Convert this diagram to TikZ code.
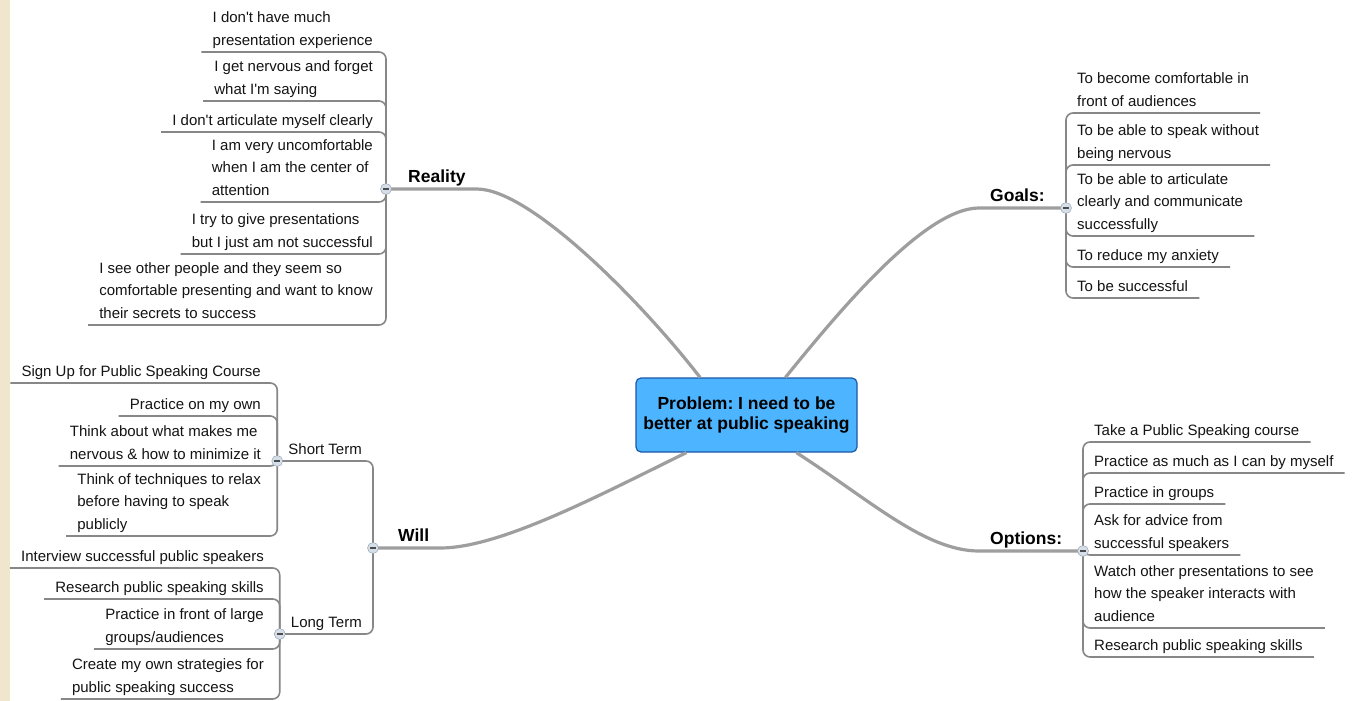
\documentclass[tikz,border=0pt]{standalone}
\usepackage{fontspec}
\setmainfont{Liberation Sans}[Ligatures=TeXOff]
\frenchspacing
\definecolor{parch}{RGB}{240,230,206}
\definecolor{probfill}{RGB}{77,181,255}
\definecolor{probdraw}{RGB}{28,88,168}
\definecolor{branchgray}{RGB}{158,158,158}
\definecolor{leafgray}{RGB}{135,135,135}
\definecolor{inkc}{RGB}{20,20,20}
\definecolor{btnfill}{RGB}{214,222,232}
\definecolor{btndraw}{RGB}{140,155,175}

\begin{document}
\begin{tikzpicture}[x=1pt, y=-1pt,
    item/.style={font=\fontsize{15}{22.5}\selectfont, text=inkc, align=left,
      inner xsep=11pt, inner ysep=0pt, execute at end node=\strut},
    topic/.style={font=\fontsize{17.5}{21}\selectfont\bfseries, text=black,
      inner xsep=11pt, inner ysep=0pt, execute at end node=\strut},
    problem/.style={draw=probdraw, fill=probfill, line width=1.2pt, rounded corners=5pt,
      minimum width=221pt, minimum height=74pt, align=center,
      font=\fontsize{17.5}{20}\selectfont\bfseries},
    branch/.style={draw=branchgray, line width=3.2pt},
    leaf/.style={draw=leafgray, line width=1.6pt, rounded corners=7pt},
    btn/.style={circle, draw=btndraw, fill=btnfill, minimum size=11pt, inner sep=0pt,
      path picture={\draw[black!70, line width=1.3pt]
        ([xshift=-2.8pt]path picture bounding box.center) --
        ([xshift=2.8pt]path picture bounding box.center);}},
  ]
  % Background
  \fill[white] (0,0) rectangle (1355,701);
  \fill[parch] (0,0) rectangle (10,701);
  \useasboundingbox (0,0) rectangle (1355,701);

  % Central topic
  \node[problem] (prob) at (746.5,415) {Problem: I need to be\\better at public speaking};

  % Main topics
  \node[topic, anchor=south west] (reality) at (397,189) {Reality};
  \node[topic, anchor=south west] (goals) at (979,208) {Goals:};
  \node[topic, anchor=south west] (will) at (387,548) {Will};
  \node[topic, anchor=south west] (options) at (979,551) {Options:};
  \node[item, anchor=south east] (st) at (373,461) {Short Term};
  \node[item, anchor=south east] (lt) at (373,634) {Long Term};

  % Buttons
  \coordinate (cR) at (386,189);
  \coordinate (cG) at (1066,208);
  \coordinate (cO) at (1083,551);
  \coordinate (cW) at (373,548);
  \coordinate (cS) at (st.south west);
  \coordinate (cL) at (lt.south west);

  % Reality
  \node[item, anchor=south east] (r1) at (384,52) {I don't have much\\presentation experience};
  \node[item, anchor=south east] (r2) at (384,101) {I get nervous and forget\\what I'm saying};
  \node[item, anchor=south east] (r3) at (384,132) {I don't articulate myself clearly};
  \node[item, anchor=south east] (r4) at (384,202) {I am very uncomfortable\\when I am the center of\\attention};
  \node[item, anchor=south east] (r5) at (384,254) {I try to give presentations\\but I just am not successful};
  \node[item, anchor=south east] (r6) at (384,325) {I see other people and they seem so\\comfortable presenting and want to know\\their secrets to success};

  % Goals
  \node[item, anchor=south west] (g1) at (1066,113) {To become comfortable in\\front of audiences};
  \node[item, anchor=south west] (g2) at (1066,165) {To be able to speak without\\being nervous};
  \node[item, anchor=south west] (g3) at (1066,236) {To be able to articulate\\clearly and communicate\\successfully};
  \node[item, anchor=south west] (g4) at (1066,267) {To reduce my anxiety};
  \node[item, anchor=south west] (g5) at (1066,298) {To be successful};

  % Options
  \node[item, anchor=south west] (o1) at (1083,442) {Take a Public Speaking course};
  \node[item, anchor=south west] (o2) at (1083,473) {Practice as much as I can by myself};
  \node[item, anchor=south west] (o3) at (1083,504) {Practice in groups};
  \node[item, anchor=south west] (o4) at (1083,555) {Ask for advice from\\successful speakers};
  \node[item, anchor=south west] (o5) at (1083,628) {Watch other presentations to see\\how the speaker interacts with\\audience};
  \node[item, anchor=south west] (o6) at (1083,657) {Research public speaking skills};

  % Will: short term
  \node[item, anchor=south east] (s1) at (272,383) {Sign Up for Public Speaking Course};
  \node[item, anchor=south east] (s2) at (272,416) {Practice on my own};
  \node[item, anchor=south east] (s3) at (272,466) {Think about what makes me\\nervous \& how to minimize it};
  \node[item, anchor=south east] (s4) at (272,536) {Think of techniques to relax\\before having to speak\\publicly};

  % Will: long term
  \node[item, anchor=south east] (l1) at (275,568) {Interview successful public speakers};
  \node[item, anchor=south east] (l2) at (275,599) {Research public speaking skills};
  \node[item, anchor=south east] (l3) at (275,649) {Practice in front of large\\groups/audiences};
  \node[item, anchor=south east] (l4) at (275,699) {Create my own strategies for\\public speaking success};

  % Branches
  \draw[branch] (prob.141) .. controls (640,300) and (530,189) .. (reality.south east) -- (cR);
  \draw[branch] (prob.44) .. controls (840,310) and (925,208) .. (goals.south west) -- (cG);
  \draw[branch] (prob.212) .. controls (600,495) and (500,548) .. (will.south east) -- (cW);
  \draw[branch] (prob.323) .. controls (870,500) and (925,551) .. (options.south west) -- (cO);

  % Leaves
  \foreach \n in {r1,r2,r3,r4,r5,r6}
    \draw[leaf] (cR) |- (\n.south west);
  \foreach \n in {g1,g2,g3,g4,g5}
    \draw[leaf] (cG) |- (\n.south east);
  \foreach \n in {o1,o2,o3,o4,o5,o6}
    \draw[leaf] (cO) |- (\n.south east);
  \draw[leaf] (cW) |- (cS);
  \draw[leaf] (cW) |- (cL);
  \foreach \n in {s1,s2,s3,s4}
    \draw[leaf] (cS) |- (\n.south west);
  \foreach \n in {l1,l2,l3,l4}
    \draw[leaf] (cL) |- (\n.south west);

  \node[btn] (bR) at (cR) {};
  \node[btn] (bG) at (cG) {};
  \node[btn] (bO) at (cO) {};
  \node[btn] (bW) at (cW) {};
  \node[btn] (bS) at (cS) {};
  \node[btn] (bL) at (cL) {};
\end{tikzpicture}
\end{document}
